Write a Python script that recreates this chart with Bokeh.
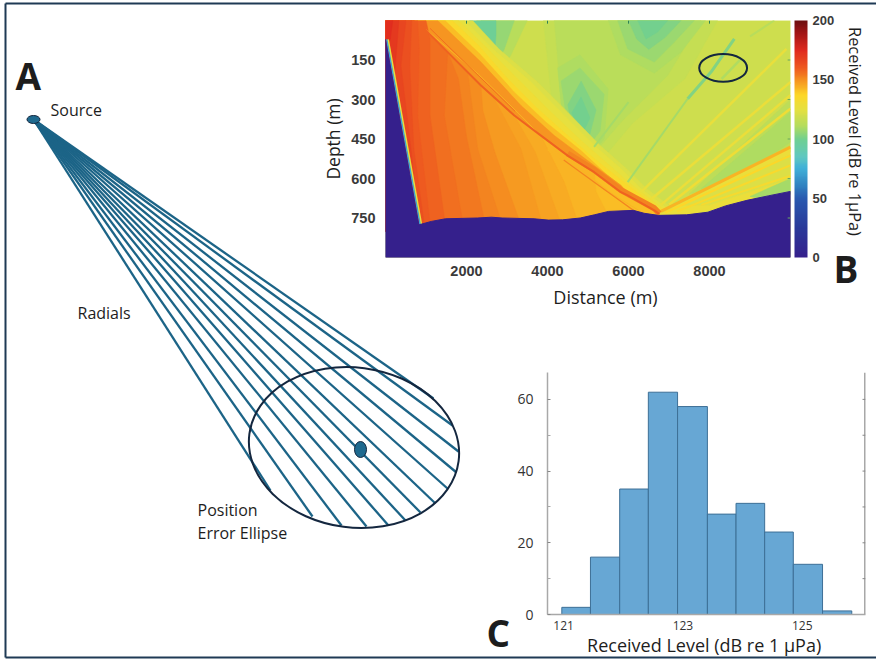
import math
import numpy as np
from bokeh.embed import file_html
from bokeh.resources import INLINE
from bokeh.plotting import figure
from bokeh.layouts import column
from bokeh.models import (ColorBar, ColumnDataSource, FixedTicker,
                          LinearColorMapper, Range1d)
from bokeh.core.properties import value

# ---------- panel A ----------
SOURCE_XY = (33, 119)
RAY_END_X = [270, 312, 341, 366, 388, 405, 420, 435, 447, 456, 458, 452, 433]
RAY_END_Y = [490, 516, 525, 526, 525, 520, 512, 503, 488, 472, 451, 425, 398]

# ---------- panel B (distance m, depth m, received level dB) ----------
DIST_TICKS = [2000, 4000, 6000, 8000]
DEPTH_TICKS = [150, 300, 450, 600, 750]
LEVEL_TICKS = [0, 50, 100, 150, 200]
SEABED_D = [0, 823, 1130, 1480, 2268, 2618, 2881, 3669, 4019, 4370, 4808, 5158, 5508,
            6121, 6384, 6734, 7435, 7960, 8398, 8923, 9449, 10000]
SEABED_Z = [72, 776, 763, 753, 750, 747, 750, 753, 758, 757, 750, 738, 725,
            721, 732, 740, 738, 728, 704, 683, 666, 649]
RIDGE_D = [700, 877, 1535, 2358, 3181, 3839, 4498, 5156, 5815, 5979, 6638, 6761]
RIDGE_Z = [0, 19, 120, 247, 361, 437, 513, 576, 652, 664, 721, 735]

# level regions painted back to front: (level, distances, depths)
GREEN_REGIONS = [
    (116, [3900, 8200, 7400, 6100, 5500, 5000, 4100], [0, 0, 220, 390, 500, 520, 300]),
    (113, [4169, 7790, 6967, 5815, 5321, 5156, 4333], [0, 0, 209, 386, 475, 475, 297]),
    (114, [7500, 9996, 9996, 8400], [660, 300, 500, 620]),
    (110, [7790, 9996, 9996, 8778], [639, 348, 462, 589]),
    (110, [4250, 4800, 5500, 5400, 4950, 4400], [180, 130, 260, 450, 530, 420]),
    (107, [4333, 4800, 5400, 5300, 4900, 4500], [230, 180, 280, 420, 500, 400]),
    (103, [4500, 4830, 5200, 5050, 4830, 4600], [320, 230, 340, 430, 490, 400]),
    (100, [4600, 4830, 5050, 4830], [350, 290, 370, 440]),
    (110, [5500, 7900, 7300, 6638, 5800], [0, 0, 120, 200, 130]),
    (107, [5733, 7625, 7131, 6638, 5979], [0, 0, 82, 158, 108]),
    (103, [6000, 7300, 6900, 6500, 6200], [0, 0, 65, 110, 70]),
    (100, [6226, 6967, 6720, 6432], [0, 0, 44, 70]),
    (112, [2250, 3500, 3100, 2800, 2400], [0, 0, 130, 210, 100]),
    (106, [2358, 3180, 2934, 2728, 2400], [0, 0, 108, 171, 90]),
    (98, [2070, 2728, 2728, 2687, 2358], [0, 0, 57, 133, 70]),
    (128, [6761, 10000, 10000, 6761], [735, 481, 660, 760]),
    (122, [7300, 10000, 10000, 8000], [700, 510, 600, 700]),
    (108, [9000, 10000, 10000, 9400], [668, 600, 660, 680]),
]
ABOVE_BANDS = [
    (122, [2150, 2800, 3750, 4500, 5300, 5950, 6450, 7100], [0, 108, 234, 348, 475, 563, 639, 715]),
    (125, [1950, 2650, 3593, 4333, 5156, 5815, 6309, 6967], [0, 108, 234, 348, 475, 563, 639, 715]),
    (130, [1800, 2475, 3305, 4045, 4827, 5485, 6060, 6885], [0, 100, 228, 342, 456, 544, 622, 718]),
    (135, [1650, 2300, 3016, 3757, 4498, 5156, 5815, 6802], [0, 95, 221, 335, 437, 525, 605, 721]),
    (142, [1470, 2330, 3180, 3963, 4827, 5485, 5980, 6781], [0, 127, 272, 386, 494, 588, 648, 728]),
    (149, [1288, 2358, 3346, 4169, 5156, 5815, 6144, 6761], [0, 158, 323, 437, 551, 626, 690, 735]),
]
# wedge below the main ridge: (level, ridge points used, cut distances, cut depths)
WEDGE_BANDS = [
    (142, 12, [6761], [800]),
    (143, 8, [5200, 5700], [650, 800]),
    (145, 6, [4416, 4827], [614, 800]),
    (146.5, 5, [3700, 4400], [500, 800]),
    (148, 4, [2687, 3346, 3922], [297, 487, 800]),
    (150, 4, [2400, 2700, 3400], [340, 500, 800]),
    (152, 3, [2029, 2276, 2934], [196, 487, 800]),
    (154, 3, [1800, 2000, 2500], [220, 440, 800]),
    (156, 3, [1453, 1947], [361, 800]),
]
WEDGE_LEFT = [
    (158, [0, 1000, 1100, 1100, 1500, 0], [0, 0, 70, 361, 800, 800]),
    (160, [0, 795, 835, 794, 1124, 0], [0, 0, 108, 361, 800, 800]),
    (163, [0, 650, 600, 700, 980, 0], [0, 0, 171, 487, 800, 800]),
    (166, [0, 506, 383, 630, 850, 0], [0, 0, 171, 487, 800, 800]),
    (170, [0, 330, 280, 200, 0], [0, 0, 100, 250, 300]),
    (174, [0, 180, 120, 0], [0, 0, 70, 110]),
]
# thin streaks: (level, line width, distances, depths)
STREAKS = [
    (108, 2.0, [5979, 7461], [614, 297]),
    (103, 3.0, [7461, 8037, 8613], [297, 196, 70]),
    (108, 2.0, [5150, 6000], [480, 310]),
    (110, 2.5, [8300, 8780], [222, 146]),
    (112, 2.0, [9000, 9600], [60, 0]),
    (127, 2.5, [6310, 9900], [652, 108]),
    (128, 2.5, [6550, 9996], [680, 234]),
    (128, 2.5, [6800, 9996], [700, 284]),
    (130, 2.5, [7000, 9996], [700, 335]),
    (143, 3.0, [6800, 9996], [725, 481]),
    (137, 2.0, [6900, 9996], [730, 513]),
    (135, 2.0, [7200, 9996], [725, 550]),
    (133, 2.0, [7800, 9996], [700, 590]),
    (143, 1.0, [1000, 2300, 3300, 4300, 5500, 6400], [35, 205, 355, 510, 650, 735]),
    (143, 1.5, [4000, 5100, 6100], [490, 600, 720]),
    (156, 1.0, [1100, 2200, 3200], [30, 195, 345]),
    (152, 1.2, [4400, 5300, 6250], [530, 630, 735]),
    (152, 6.0, [4498, 5156, 5815, 6638, 6761], [505, 568, 644, 713, 733]),
    (158, 2.0, RIDGE_D[1:], RIDGE_Z[1:]),
    (125, 2.0, [60, 885], [72, 776]),
    (72, 1.5, [30, 855], [72, 776]),
]
EST_D, EST_Z, EST_W, EST_H = 8337, 180, 1182, 105

# ---------- panel C ----------
BIN_EDGES = [120.97, 121.45, 121.94, 122.42, 122.91, 123.41, 123.89, 124.37, 124.85, 125.34, 125.83]
COUNTS = [2, 16, 35, 62, 58, 28, 31, 23, 14, 1]
HIST_X_TICKS = [121, 123, 125]
HIST_Y_TICKS = [0, 20, 40, 60]
HIST_Y_MINOR = [10, 30, 50]
HIST_X_MAX = 126.06

# ---------- colours ----------
STOPS = [0, 25, 50, 60, 75, 85, 100, 110, 125, 137, 150, 160, 175, 190, 200]
STOP_COL = ["#35208c", "#2a3a9a", "#2a5ab0", "#3080c0", "#40b0d8", "#60c8c0", "#70d090", "#b0dc60",
            "#e5e040", "#fdd828", "#f59020", "#ee5a20", "#e02a1f", "#a01515", "#6e1010"]
rgb = np.array([[int(c[i:i + 2], 16) for i in (1, 3, 5)] for c in STOP_COL], float)
lv = np.linspace(0, 200, 256)
PALETTE = ["#%02x%02x%02x" % tuple(int(round(np.interp(v, STOPS, rgb[:, k]))) for k in range(3)) for v in lv]
mapper = LinearColorMapper(palette=PALETTE, low=0, high=200)
INK = "#1d1d1d"
RAY = "#1c6487"
NAVY = "#14273f"
OS = value("Open Sans")

# ---------- canvas: panel A, frame and letters ----------
cv = figure(width=876, height=659, x_range=Range1d(0, 876), y_range=Range1d(659, 0),
            output_backend="svg", toolbar_location=None, min_border=0, outline_line_color=None,
            x_axis_type=None, y_axis_type=None, margin=(0, 0, 0, 0), frame_align=False)
cv.grid.visible = False
cv.multi_line([[5, 876], [5, 5], [5, 876]], [[3, 3], [3, 657], [657, 657]], line_color="#1f3a55", line_width=2)
cv.segment(x0=[SOURCE_XY[0]] * len(RAY_END_X), y0=[SOURCE_XY[1]] * len(RAY_END_X), x1=RAY_END_X, y1=RAY_END_Y,
           line_color=RAY, line_width=2.3)
cv.ellipse(x=[353.5], y=[447], width=[211], height=[160], angle=[-0.13], fill_color=None, line_color=NAVY, line_width=2)
cv.ellipse(x=[360], y=[449], width=[12], height=[16], fill_color="#1f6a8f", line_color=NAVY, line_width=1)
cv.ellipse(x=[SOURCE_XY[0]], y=[SOURCE_XY[1]], width=[13], height=[8], fill_color="#1f6a8f", line_color=NAVY, line_width=1)


def label(x, y, text, size, style="normal", angle=0.0, align="left"):
    cv.text([x], [y], text=[text], text_font=OS, text_font_size=size, text_font_style=style, text_color=INK,
            text_baseline="middle", text_align=align, angle=angle)


label(15, 75, "A", "37px", "bold")
label(833, 268, "B", "37px", "bold")
label(486, 632, "C", "37px", "bold")
label(50, 109, "Source", "16px")
label(77, 312, "Radials", "16px")
label(197, 509, "Position", "16px")
label(197, 532, "Error Ellipse", "16px")
label(855, 131, "Received Level (dB re 1µPa)", "16.4px", angle=-math.pi / 2, align="center")
label(605, 296, "Distance (m)", "18px", align="center")

# ---------- panel B ----------
b = figure(width=530, height=312, frame_width=405, frame_height=237, x_range=Range1d(0, 10000), y_range=Range1d(900, 0),
           output_backend="svg", toolbar_location=None, min_border_left=65, min_border_top=15,
           min_border_bottom=60, min_border_right=5, outline_line_color=None, frame_align=False,
           background_fill_color=None, border_fill_color=None, margin=(-654, 0, 0, 318))
b.grid.visible = False
b.xaxis.ticker = FixedTicker(ticks=DIST_TICKS)
b.yaxis.ticker = FixedTicker(ticks=DEPTH_TICKS)
for ax in (b.xaxis[0], b.yaxis[0]):
    ax.axis_line_color = None
    ax.major_tick_line_color = None
    ax.minor_tick_line_color = None
    ax.major_label_text_font = "Liberation Sans"
    ax.major_label_text_font_style = "bold"
    ax.major_label_text_font_size = "14.5px"
    ax.major_label_text_color = "#3a3a3a"
    ax.axis_label_text_font = "Open Sans"
    ax.axis_label_text_font_style = "normal"
    ax.axis_label_text_font_size = "17.5px"
    ax.axis_label_text_color = INK
b.yaxis.axis_label = "Depth (m)"
b.xaxis.major_label_standoff = 2
b.yaxis.major_label_standoff = 4
b.yaxis.axis_label_standoff = 3

regions = [(118, [0, 10000, 10000, 0], [0, 0, 900, 900])] + GREEN_REGIONS
for lvl, ad, az in ABOVE_BANDS:
    regions.append((lvl, list(ad) + RIDGE_D[::-1], list(az) + RIDGE_Z[::-1]))
for lvl, n, cd, cz in WEDGE_BANDS:
    regions.append((lvl, [0] + RIDGE_D[:n] + cd + [0], [0] + RIDGE_Z[:n] + cz + [800]))
regions += WEDGE_LEFT
band_src = ColumnDataSource(dict(xs=[r[1] for r in regions], ys=[r[2] for r in regions],
                                 lvl=[r[0] for r in regions]))
cmap = {"field": "lvl", "transform": mapper}
b.patches("xs", "ys", source=band_src, fill_color=cmap, line_color=cmap, line_width=0.5)
streak_src = ColumnDataSource(dict(xs=[s[2] for s in STREAKS], ys=[s[3] for s in STREAKS],
                                   lvl=[s[0] for s in STREAKS], w=[s[1] for s in STREAKS]))
b.multi_line("xs", "ys", source=streak_src, line_color=cmap, line_width="w")
b.patches([SEABED_D + [10000, 0]], [SEABED_Z + [900, 900]], fill_color=PALETTE[0], line_color=PALETTE[0],
          line_width=1)
b.ellipse(x=[EST_D], y=[EST_Z], width=[EST_W], height=[EST_H], fill_color=None, line_color=NAVY, line_width=2)
b.segment(x0=DIST_TICKS, x1=DIST_TICKS, y0=[0] * 4, y1=[12] * 4, line_color="#2f7f55")
b.segment(x0=[10000] * 5, x1=[9930] * 5, y0=DEPTH_TICKS, y1=DEPTH_TICKS, line_color="#6aa860")

bar = ColorBar(color_mapper=mapper, ticker=FixedTicker(ticks=LEVEL_TICKS), width=13, height=237, padding=0, margin=0,
               location=(4, 0), major_label_text_font="Liberation Sans", major_label_text_font_style="bold",
               major_label_text_font_size="13px", major_label_text_color="#3a3a3a", label_standoff=5,
               major_tick_line_color=None, bar_line_color=None, background_fill_color=None, border_line_color=None)
b.add_layout(bar, "right")

# ---------- panel C ----------
c = figure(width=368, height=297, frame_width=318, frame_height=242, x_range=Range1d(120.73, HIST_X_MAX), y_range=Range1d(0, 67.5),
           output_backend="svg", toolbar_location=None, min_border_left=40, min_border_top=10, frame_align=False,
           min_border_bottom=45, min_border_right=5, outline_line_color=None,
           background_fill_color=None, border_fill_color=None, margin=(45, 0, 0, 507))
c.grid.visible = False
c.quad(left=BIN_EDGES[:-1], right=BIN_EDGES[1:], top=COUNTS, bottom=0, fill_color="#67a7d4",
       line_color="#3d6f96", line_width=1)
c.line(x=[HIST_X_MAX, HIST_X_MAX], y=[0, 67.5], line_color="#a8a8a8", line_width=3)
c.segment(x0=[HIST_X_MAX] * 6, x1=[HIST_X_MAX - 0.05] * 6, y0=HIST_Y_TICKS[1:] + HIST_Y_MINOR,
          y1=HIST_Y_TICKS[1:] + HIST_Y_MINOR, line_color="#888888")
c.xaxis.ticker = FixedTicker(ticks=HIST_X_TICKS)
c.yaxis.ticker = FixedTicker(ticks=HIST_Y_TICKS, minor_ticks=HIST_Y_MINOR)
c.xaxis.axis_label = "Received Level  (dB re 1 µPa)"
c.xaxis.axis_label_text_font = "Open Sans"
c.xaxis.axis_label_text_font_style = "normal"
c.xaxis.axis_label_text_font_size = "18px"
c.xaxis.axis_label_text_color = INK
c.xaxis.axis_label_standoff = 0
c.xaxis.major_tick_out = 0
c.xaxis.major_tick_in = 0
c.xaxis.major_label_standoff = 6
c.xaxis.major_tick_line_color = None
c.xaxis.minor_tick_line_color = None
c.xaxis.major_label_text_font = "Open Sans"
c.xaxis.major_label_text_font_size = "12px"
c.xaxis.major_label_text_color = "#333333"
c.xaxis.axis_line_color = "#a8a8a8"
c.xaxis.axis_line_width = 1.5
c.yaxis.axis_line_color = "#a8a8a8"
c.yaxis.axis_line_width = 1.5
c.yaxis.major_tick_in = 3
c.yaxis.major_tick_out = 0
c.yaxis.minor_tick_in = 3
c.yaxis.minor_tick_out = 0
c.yaxis.minor_tick_line_color = "#a8a8a8"
c.yaxis.major_tick_line_color = "#888888"
c.yaxis.major_label_text_font = "Open Sans"
c.yaxis.major_label_text_font_size = "14px"
c.yaxis.major_label_text_color = "#333333"
c.yaxis.major_label_standoff = 14

root = column(cv, b, c)
open("out.html", "w").write(file_html(root, INLINE))
